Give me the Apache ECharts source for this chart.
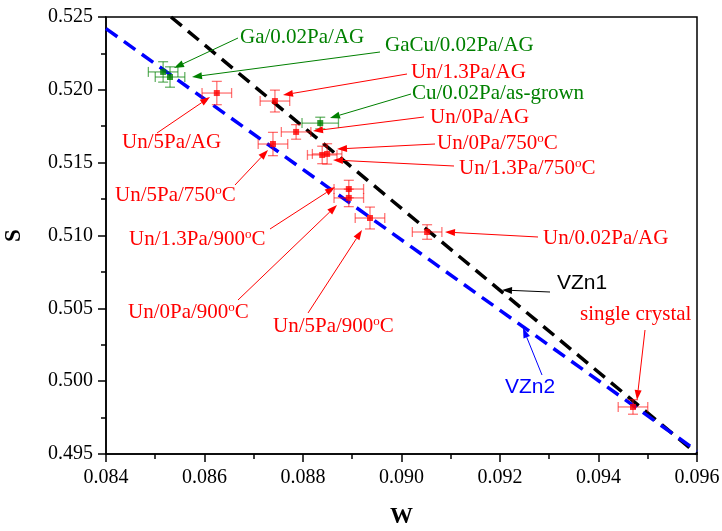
<!DOCTYPE html>
<html><head><meta charset="utf-8">
<script src="https://cdn.jsdelivr.net/npm/echarts@6/dist/echarts.min.js"></script>
<style>html,body{margin:0;padding:0;background:#fff}#c{width:722px;height:531px}</style>
</head><body><div id="c"></div>
<script>
// ---- data ----
const sampleNames = ['Ga/0.02Pa/AG','GaCu/0.02Pa/AG','Un/5Pa/AG','Un/1.3Pa/AG','Cu/0.02Pa/as-grown','Un/0Pa/AG','Un/5Pa/750°C','Un/0Pa/750°C','Un/1.3Pa/750°C','Un/1.3Pa/900°C','Un/0Pa/900°C','Un/5Pa/900°C','Un/0.02Pa/AG','single crystal'];
const doped   = [1,1,0,0,1,0,0,0,0,0,0,0,0,0];
const wValues = [0.08516,0.08530,0.08625,0.08743,0.08835,0.08786,0.08739,0.08849,0.08839,0.08893,0.08893,0.08936,0.09052,0.09470];
const sValues = [0.52123,0.52088,0.51978,0.51923,0.51772,0.51711,0.51628,0.51560,0.51553,0.51319,0.51258,0.51120,0.51024,0.49823];
const wErrors = [0.0003,0.0003,0.0003,0.0003,0.00037,0.0003,0.0003,0.0003,0.0003,0.0003,0.0003,0.0003,0.0003,0.0003];
const sErrors = [0.0007,0.0007,0.0008,0.00075,0.0004,0.0005,0.0008,0.0007,0.0006,0.0006,0.0006,0.00075,0.0005,0.0005];
const vzn1W = [0.08532, 0.096];
const vzn1S = [0.525, 0.495];
const vzn2W = [0.084, 0.096];
const vzn2S = [0.5242, 0.4952];

// ---- annotation layout (pixels): text anchor, arrow tail, arrow head ----
const annotations = [
  {t:'Ga/0.02Pa/AG', c:'#008000', p:[240,37], a:[238,38,174,68]},
  {t:'GaCu/0.02Pa/AG', c:'#008000', p:[385,45], a:[380,52,192,77]},
  {t:'Un/1.3Pa/AG', c:'#ff0000', p:[411,72], a:[407,74,283,95]},
  {t:'Cu/0.02Pa/as-grown', c:'#008000', p:[412,93], a:[411,94,330,118]},
  {t:'Un/0Pa/AG', c:'#ff0000', p:[430,117], a:[424,117,313,131]},
  {t:'Un/0Pa/750°C', c:'#ff0000', p:[437,143], a:[435,144,337,149]},
  {t:'Un/1.3Pa/750°C', c:'#ff0000', p:[459,168], a:[454,166,333,160]},
  {t:'Un/0.02Pa/AG', c:'#ff0000', p:[543,238], a:[538,237,445,232]},
  {t:'Un/5Pa/AG', c:'#ff0000', p:[122,142], a:[157,133,210,97]},
  {t:'Un/5Pa/750°C', c:'#ff0000', p:[115,195], a:[235,185,268,150]},
  {t:'Un/1.3Pa/900°C', c:'#ff0000', p:[129,239], a:[270,229,335,187]},
  {t:'Un/0Pa/900°C', c:'#ff0000', p:[128,312], a:[238,300,337,205]},
  {t:'Un/5Pa/900°C', c:'#ff0000', p:[273,326], a:[308,313,362,230]},
  {t:'VZn1', c:'#000000', p:[557,283], a:[550,292,502,290], sans:true},
  {t:'VZn2', c:'#0000ff', p:[505,387], a:[542,375,523,328], sans:true},
  {t:'single crystal', c:'#ff0000', p:[580,314], a:[645,330,637,400]}
];

const SERIF = "'Liberation Serif','Times New Roman',serif";
const SANS = "'Liberation Sans',Arial,sans-serif";
const RED = '#ff0000', GREEN = '#008000';

function arrowElems(x1,y1,x2,y2,color){
  const dx=x2-x1, dy=y2-y1, L=Math.hypot(dx,dy), ux=dx/L, uy=dy/L;
  const hl=10, hw=3.5, bx=x2-ux*hl, by=y2-uy*hl;
  return [
    {type:'line', shape:{x1:x1,y1:y1,x2:bx,y2:by}, style:{stroke:color,lineWidth:1}, z:100},
    {type:'polygon', shape:{points:[[x2,y2],[bx-uy*hw,by+ux*hw],[bx+uy*hw,by-ux*hw]]}, style:{fill:color}, z:100}
  ];
}
const graphics = [];
annotations.forEach(a=>{
  const txt = a.t.replace('°','{s|o}');
  graphics.push({type:'text', z:100, style:{
    text: txt, x:a.p[0], y:a.p[1], fill:a.c, align:'left', verticalAlign:'middle',
    fontSize:21, fontFamily: a.sans?SANS:SERIF, lineHeight:22,
    rich:{s:{fontSize:13, fill:a.c, fontFamily:SERIF, verticalAlign:'top', lineHeight:22}}
  }});
  arrowElems(a.a[0],a.a[1],a.a[2],a.a[3],a.c).forEach(e=>graphics.push(e));
});

const errData = wValues.map((w,i)=>[w, sValues[i], wErrors[i], sErrors[i], doped[i]]);
const redPts = [], greenPts = [];
wValues.forEach((w,i)=>{ (doped[i]?greenPts:redPts).push([w, sValues[i], sampleNames[i]]); });

const chart = echarts.init(document.getElementById('c'));
chart.setOption({
  animation:false,
  backgroundColor:'#fff',
  grid:{left:106, right:25, top:17, bottom:77, outerBoundsMode:'none', containLabel:false,
    show:true, borderColor:'#000', borderWidth:1.5, backgroundColor:'transparent'},
  xAxis:{type:'value', min:0.084, max:0.096, interval:0.002,
    name:'W', nameLocation:'middle', nameGap:52,
    nameTextStyle:{fontFamily:SERIF, fontWeight:'bold', fontSize:23, color:'#000'},
    axisLine:{onZero:false, lineStyle:{color:'#000', width:1.5}},
    axisTick:{length:8, lineStyle:{color:'#000', width:1.5}},
    minorTick:{show:true, splitNumber:2, length:5, lineStyle:{color:'#000', width:1.5}},
    splitLine:{show:false},
    axisLabel:{fontFamily:SERIF, fontSize:20, color:'#000', margin:14, formatter:v=>v.toFixed(3)}
  },
  yAxis:{type:'value', min:0.495, max:0.525, interval:0.005,
    name:'S', nameLocation:'middle', nameGap:80, nameRotate:90,
    nameTextStyle:{fontFamily:SERIF, fontWeight:'bold', fontSize:23, color:'#000'},
    axisLine:{onZero:false, lineStyle:{color:'#000', width:1.5}},
    axisTick:{length:8, lineStyle:{color:'#000', width:1.5}},
    minorTick:{show:true, splitNumber:2, length:5, lineStyle:{color:'#000', width:1.5}},
    splitLine:{show:false},
    axisLabel:{fontFamily:SERIF, fontSize:20, color:'#000', margin:13, formatter:v=>v.toFixed(3)}
  },
  series:[
    {type:'line', name:'VZn1', data:vzn1W.map((w,i)=>[w,vzn1S[i]]), symbol:'none',
      lineStyle:{color:'#000', width:3.5, type:[14,8]}, z:3},
    {type:'line', name:'VZn2', data:vzn2W.map((w,i)=>[w,vzn2S[i]]), symbol:'none',
      lineStyle:{color:'#0000ff', width:3.5, type:[14,8]}, z:3},
    {type:'custom', name:'errors', data:errData, z:4, clip:true,
      renderItem:function(params, api){
        const x=api.value(0), y=api.value(1), ex=api.value(2), ey=api.value(3), g=api.value(4);
        const c=api.coord([x,y]), l=api.coord([x-ex,y]), r=api.coord([x+ex,y]);
        const t=api.coord([x,y+ey]), b=api.coord([x,y-ey]);
        const col = g ? 'rgba(0,128,0,0.6)' : 'rgba(255,0,0,0.55)';
        const st={stroke:col, lineWidth:1.3}; const cap=5;
        return {type:'group', children:[
          {type:'line', shape:{x1:l[0],y1:c[1],x2:r[0],y2:c[1]}, style:st},
          {type:'line', shape:{x1:l[0],y1:c[1]-cap,x2:l[0],y2:c[1]+cap}, style:st},
          {type:'line', shape:{x1:r[0],y1:c[1]-cap,x2:r[0],y2:c[1]+cap}, style:st},
          {type:'line', shape:{x1:c[0],y1:t[1],x2:c[0],y2:b[1]}, style:st},
          {type:'line', shape:{x1:c[0]-cap,y1:t[1],x2:c[0]+cap,y2:t[1]}, style:st},
          {type:'line', shape:{x1:c[0]-cap,y1:b[1],x2:c[0]+cap,y2:b[1]}, style:st}
        ]};
      }},
    {type:'scatter', name:'undoped', data:redPts, symbol:'rect', symbolSize:6, itemStyle:{color:RED}, z:5},
    {type:'scatter', name:'doped', data:greenPts, symbol:'rect', symbolSize:6, itemStyle:{color:GREEN}, z:5}
  ],
  graphic: graphics
});
</script></body></html>
